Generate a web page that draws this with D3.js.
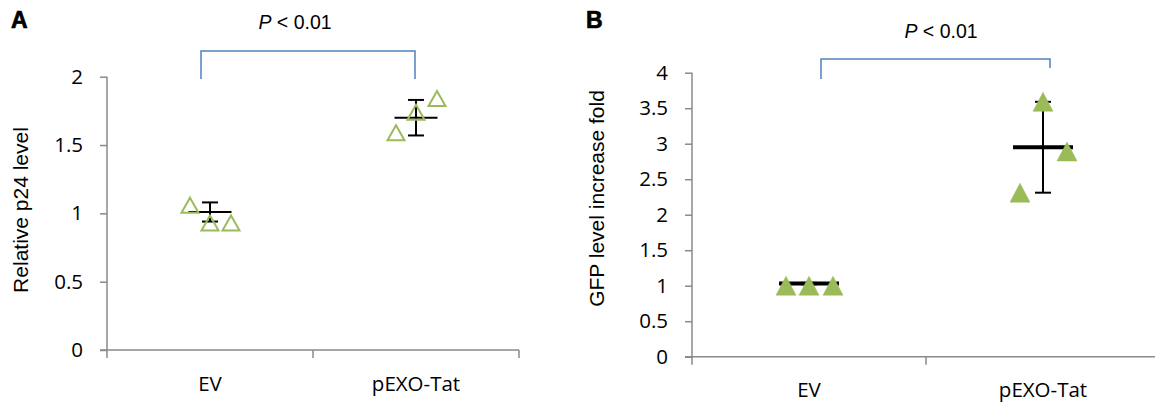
<!DOCTYPE html>
<html><head><meta charset="utf-8">
<script src="https://cdn.jsdelivr.net/npm/d3@7/dist/d3.min.js"></script>
<style>
body{margin:0;background:#fff;}
svg{display:block;}
.tick text{font-family:"Open Sans",sans-serif;font-size:20.5px;fill:#000;}
</style></head>
<body><svg id="c" width="1155" height="404"></svg>
<script>
// ---- data ----
const categories = ["EV", "pEXO-Tat"];
// Panel A: Relative p24 level (open triangles)
const p24Points = [[1.06, 0.93, 0.93], [1.59, 1.74, 1.84]];
const p24Mean = [1.01, 1.70];
const p24SD = [0.07, 0.13];
const p24Ticks = [0, 0.5, 1, 1.5, 2];
// Panel B: GFP level increase fold (filled triangles)
const gfpPoints = [[1.0, 1.0, 1.0], [2.31, 3.59, 2.89]];
const gfpMean = [1.03, 2.95];
const gfpSD = [0.01, 0.64];
const gfpTicks = [0, 0.5, 1, 1.5, 2, 2.5, 3, 3.5, 4];
const pLabel = "< 0.01";

const svg = d3.select("#c");
const axisColor = "#8a8a8a", green = "#9bbb59", blue = "#4f81bd";

function panel(cfg) {
  const g = svg.append("g");
  const x = d3.scaleBand().domain(categories).range(cfg.xRange).paddingInner(0).paddingOuter(0);
  const y = d3.scaleLinear().domain([0, cfg.yMax]).range(cfg.yRange);
  const y0 = y(0);

  // y axis
  const ya = g.append("g").attr("transform", `translate(${cfg.xRange[0]},0)`)
    .call(d3.axisLeft(y).tickValues(cfg.ticks).tickSize(7).tickPadding(17).tickFormat(d3.format("")));
  ya.select(".domain").remove();
  ya.selectAll(".tick line").attr("stroke", axisColor).attr("stroke-width", 1.5);
  ya.append("line").attr("x1", 0).attr("x2", 0).attr("y1", y(cfg.yMax)).attr("y2", y0)
    .attr("stroke", axisColor).attr("stroke-width", 1.5);

  // x axis
  const xa = g.append("g").attr("transform", `translate(0,${y0})`)
    .call(d3.axisBottom(x).tickSize(0).tickPadding(26));
  xa.select(".domain").remove();
  xa.append("line").attr("x1", cfg.xRange[0] - 7).attr("x2", cfg.xRange[1]).attr("y1", 0).attr("y2", 0)
    .attr("stroke", axisColor).attr("stroke-width", 1.5);
  const bounds = categories.map(c => x(c)).concat([cfg.xRange[1]]);
  xa.selectAll("line.bt").data(bounds).join("line").attr("class", "bt")
    .attr("x1", d => d).attr("x2", d => d).attr("y1", 0).attr("y2", 8)
    .attr("stroke", axisColor).attr("stroke-width", 1.5);

  // axis title
  g.append("text").attr("transform", `translate(${cfg.titleX},${cfg.titleY}) rotate(-90)`)
    .attr("text-anchor", "middle").style("font-family", "'Liberation Sans',Arial,sans-serif")
    .style("font-size", "21px").text(cfg.title);

  // panel letter
  g.append("text").attr("x", cfg.letterX).attr("y", cfg.letterY)
    .style("font-family", "'Liberation Sans',Arial,sans-serif").style("font-weight", "bold")
    .style("font-size", "23px").attr("stroke", "#000").attr("stroke-width", 0.7)
    .text(cfg.letter);

  const cx = c => x(c) + x.bandwidth() / 2;

  // error bars + mean
  categories.forEach((c, i) => {
    const xc = cx(c);
    const m = cfg.mean[i], s = cfg.sd[i];
    g.append("line").attr("x1", xc).attr("x2", xc).attr("y1", y(m + s)).attr("y2", y(m - s))
      .attr("stroke", "#000").attr("stroke-width", 2);
    [m + s, m - s].forEach(v => g.append("line").attr("x1", xc - 8).attr("x2", xc + 8)
      .attr("y1", y(v)).attr("y2", y(v)).attr("stroke", "#000").attr("stroke-width", 2));
    g.append("line").attr("x1", xc - cfg.meanHalf).attr("x2", xc + cfg.meanHalf)
      .attr("y1", y(m)).attr("y2", y(m)).attr("stroke", "#000").attr("stroke-width", cfg.meanW);
  });

  // points
  const tri = (w, h) => `M0,${-h/2}L${w/2},${h/2}L${-w/2},${h/2}Z`;
  categories.forEach((c, i) => {
    cfg.points[i].forEach((v, j) => {
      g.append("path").attr("d", tri(cfg.triW, cfg.triH))
        .attr("transform", `translate(${cx(c) + cfg.jitter[j]},${y(v)})`)
        .attr("fill", cfg.filled ? green : "none")
        .attr("stroke", green).attr("stroke-width", cfg.filled ? 0.5 : 2)
        .attr("stroke-linejoin", "miter");
    });
  });

  // bracket
  const bl = cx(categories[0]) + cfg.brL, br = cx(categories[1]) + cfg.brR;
  g.append("path").attr("d", `M${bl},${cfg.brBotL}V${cfg.brTop}H${br}V${cfg.brBotR}`)
    .attr("fill", "none").attr("stroke", blue).attr("stroke-width", 1.5);
  const t = g.append("text").attr("x", cfg.pX).attr("y", cfg.pY).attr("text-anchor", "middle")
    .style("font-family", "'Liberation Sans',Arial,sans-serif").style("font-size", "19.5px");
  t.append("tspan").style("font-style", "italic").text("P");
  t.append("tspan").text(" " + pLabel);
}

panel({
  xRange: [107, 519], yRange: [350, 76.7], yMax: 2, ticks: p24Ticks,
  points: p24Points, mean: p24Mean, sd: p24SD, filled: false,
  jitter: [-20, 0, 21], triW: 17, triH: 15, meanHalf: 21.5, meanW: 2,
  title: "Relative p24 level", titleX: 28, titleY: 210, letter: "A", letterX: 11, letterY: 28,
  brL: -9, brR: -1, brTop: 51, brBotL: 79, brBotR: 79, pX: 295, pY: 29
});
panel({
  xRange: [692, 1160], yRange: [356.7, 72.7], yMax: 4, ticks: gfpTicks,
  points: gfpPoints, mean: gfpMean, sd: gfpSD, filled: true,
  jitter: [-23, 0, 24], triW: 20, triH: 19, meanHalf: 30, meanW: 4,
  title: "GFP level increase fold", titleX: 604, titleY: 198.5, letter: "B", letterX: 586, letterY: 28,
  brL: 12, brR: 7, brTop: 59, brBotL: 79, brBotR: 68, pX: 941, pY: 38
});
</script></body></html>
